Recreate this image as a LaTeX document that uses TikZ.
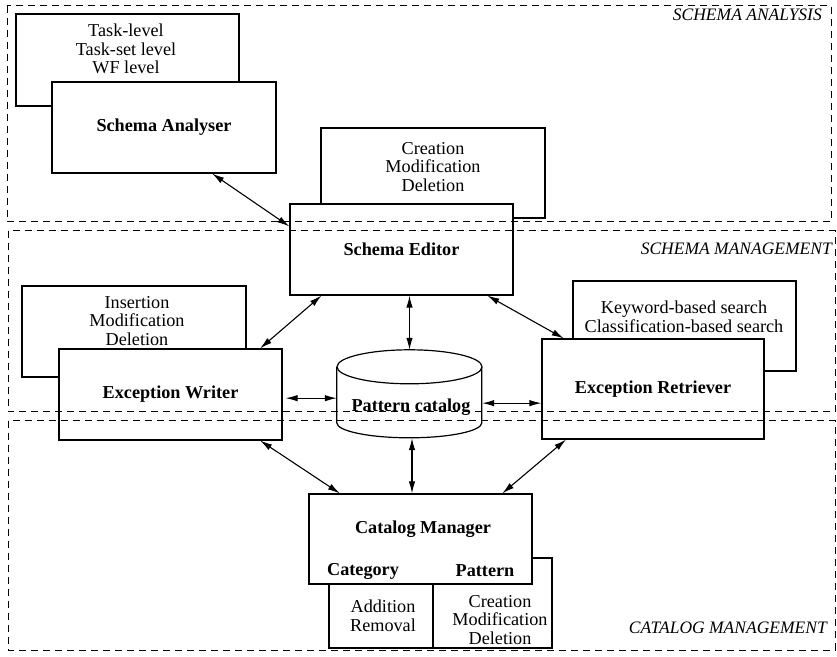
\documentclass[tikz,border=0pt]{standalone}
\usepackage{fontspec}
\setmainfont{Liberation Serif}
\usetikzlibrary{arrows.meta,calc}

\tikzset{
	box/.style={draw, line width=1.2pt, fill=white, minimum width=223pt, minimum height=91pt, inner sep=0pt, font=\fontsize{18.2}{18.8}\selectfont\bfseries},
	backbox/.style={draw, line width=1.2pt, fill=white, minimum width=223pt, minimum height=90pt, inner sep=0pt},
	lines/.style={align=center, inner sep=0pt, font=\fontsize{18.2}{18.8}\selectfont},
	region/.style={dash pattern=on 7pt off 5pt, line width=1pt},
	regionlabel/.style={anchor=east, inner sep=0pt, font=\fontsize{17.5}{18.5}\selectfont\itshape},
	link/.style={<->, > = {Latex[length=12pt,width=6.5pt]}, line width=1.1pt}
}

\begin{document}
\begin{tikzpicture}[x=1pt, y=1pt]
	\useasboundingbox (0,0) rectangle (837,656);
	% schema analysis
	\node [backbox, minimum height=92pt] (taskbox) at (127.5,596) {};
	\node [lines] (tasktext) at (126,607) {Task-level\\Task-set level\\WF level};
	\node [box, minimum width=224pt] (sa) at (164,528.5) {Schema Analyser};
	\node [backbox, minimum width=224pt] (creabox) at (433,483) {};
	\node [lines] (creatext) at (433,489) {Creation\\Modification\\Deletion};
	\node [box] (se) at (401.5,406.5) {Schema Editor};
	% schema management
	\node [backbox, minimum width=224pt, minimum height=91pt] (insbox) at (134,324.5) {};
	\node [lines] (instext) at (137,335) {Insertion\\Modification\\Deletion};
	\node [box] (ew) at (170.5,261.5) {Exception Writer};
	\node [backbox] (keybox) at (684.5,330) {};
	\node [lines] (keytext) at (684,339.5) {Keyword-based search\\Classification-based search};
	\node [box, minimum width=222pt, minimum height=100pt] (er) at (653,267) {Exception Retriever};
	% pattern catalog
	\node [minimum width=145pt, minimum height=88pt, inner sep=0pt] (cat) at (409.5,262) {};
	\draw [line width=1.2pt, fill=white] (cat.north west) ++(0,-17) -- ++(0,-56)
		arc [start angle=180, end angle=360, x radius=72.5, y radius=15] -- ++(0,56);
	\draw [line width=1.2pt, fill=white] ($(cat.north)+(0,-17)$) ellipse [x radius=72.5, y radius=17];
	\node [lines, font=\fontsize{18.2}{18.8}\selectfont\bfseries] (cattext) at (411,249) {Pattern catalog};
	% catalog management
	\node [backbox] (catback) at (440.5,53) {};
	\draw [line width=1.2pt] (433,72) -- (433,8);
	\node [lines] (addtext) at (383,40.5) {Addition\\Removal};
	\node [lines] (pattext) at (500,36) {Creation\\Modification\\Deletion};
	\node [box, minimum height=90pt] (cm) at (420.5,117) {};
	\node [lines, font=\fontsize{18.2}{18.8}\selectfont\bfseries] (cmtext) at (423,127) {Catalog Manager};
	\node [lines, font=\fontsize{18.2}{18.8}\selectfont\bfseries] (category) at (363,85) {Category};
	\node [lines, font=\fontsize{18.2}{18.8}\selectfont\bfseries] (pattern) at (485,85) {Pattern};
	% connectors
	\draw [link] ($(sa.south west)!.714!(sa.south east)$) -- ($(se.north west)!.25!(se.south west)$);
	\draw [link] ($(se.south west)!.143!(se.south east)$) -- ($(ew.north west)!.90!(ew.north east)$);
	\draw [link] (se.south -| cat.north) -- (cat.north);
	\draw [link] ($(se.south west)!.883!(se.south east)$) -- ($(er.north west)!.10!(er.north east)$);
	\draw [link] ($(ew.north east)!.54!(ew.south east)+(3,0)$) -- (cat.west |- {$(ew.north east)!.54!(ew.south east)$});
	\draw [link] (cat.east |- {$(er.north west)!.64!(er.south west)$}) -- ($(er.north west)!.64!(er.south west)$);
	\draw [link] ($(ew.south west)!.90!(ew.south east)$) -- ($(cm.north west)!.14!(cm.north east)$);
	\draw [link] ([xshift=2.5pt]cat.south) -- ([xshift=2.5pt]cat.south |- cm.north);
	\draw [link] ($(er.south west)!.11!(er.south east)$) -- ($(cm.north west)!.865!(cm.north east)$);
	% regions
	\draw [region] (7,650) rectangle (831,434);
	\draw [region] (8,425) rectangle (835,244);
	\draw [region] (8,235) rectangle (835,6);
	\node [regionlabel] (lanalysis) at (822,641) {SCHEMA ANALYSIS};
	\node [regionlabel] (lmanagement) at (832,407) {SCHEMA MANAGEMENT};
	\node [regionlabel] (lcatalog) at (827,28) {CATALOG MANAGEMENT};
\end{tikzpicture}
\end{document}
